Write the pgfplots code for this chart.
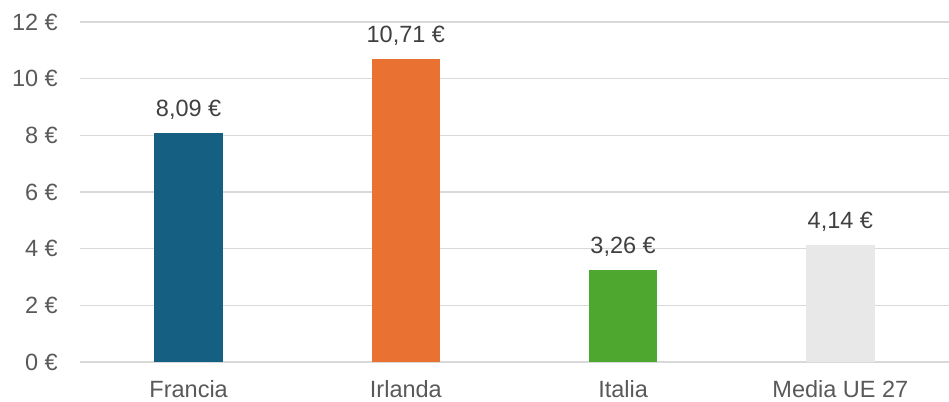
\documentclass[border=0pt]{standalone}
\usepackage{fontspec}
\setmainfont{Liberation Sans}
\usepackage{pgfplots}
\pgfplotsset{compat=1.18}
\definecolor{cFr}{HTML}{156082}
\definecolor{cIr}{HTML}{E97132}
\definecolor{cIt}{HTML}{4EA72E}
\definecolor{cUe}{HTML}{E8E8E8}
\definecolor{gridc}{HTML}{D9D9D9}
\definecolor{txt}{HTML}{595959}
\definecolor{lbl}{HTML}{404040}

\begin{document}
\begin{tikzpicture}
\begin{axis}[
    scale only axis,
    width=869bp, height=340bp,
    xmin=-0.5, xmax=3.5,
    ymin=0, ymax=12,
    ytick={0,2,...,12},
    xtick={0,1,2,3},
    xticklabels={Francia,Irlanda,Italia,Media UE 27},
    yticklabel={\pgfmathprintnumber{\tick}~€},
    /pgf/number format/assume math mode=true,
    ymajorgrids, grid style={gridc, line width=1.3bp},
    axis line style={draw=none},
    major tick length=0pt,
    tick label style={font=\fontsize{23.5bp}{26bp}\selectfont, text=txt, inner sep=0pt},
    yticklabel style={anchor=east, xshift=-22bp},
    xticklabel style={anchor=base, yshift=-35.5bp},
    ybar, bar width=68.5bp, bar shift=0pt,
    nodes near coords={\pgfmathprintnumber[fixed,fixed zerofill,precision=2,use comma]{\pgfplotspointmeta}~€},
    every node near coord/.append style={font=\fontsize{23.5bp}{26bp}\selectfont, text=lbl, inner sep=0pt, anchor=base, yshift=16bp},
    clip=false,
]
\addplot[fill=cFr, draw=none] coordinates {(0,8.09)};
\addplot[fill=cIr, draw=none] coordinates {(1,10.71)};
\addplot[fill=cIt, draw=none] coordinates {(2,3.26)};
\addplot[fill=cUe, draw=none] coordinates {(3,4.14)};
\coordinate (ll) at (rel axis cs:0,0);
\coordinate (ur) at (rel axis cs:1,1);
\end{axis}
\pgfresetboundingbox
\path[use as bounding box] ([shift={(-80bp,-39bp)}]ll) rectangle ([shift={(0bp,22bp)}]ur);
\end{tikzpicture}
\end{document}
